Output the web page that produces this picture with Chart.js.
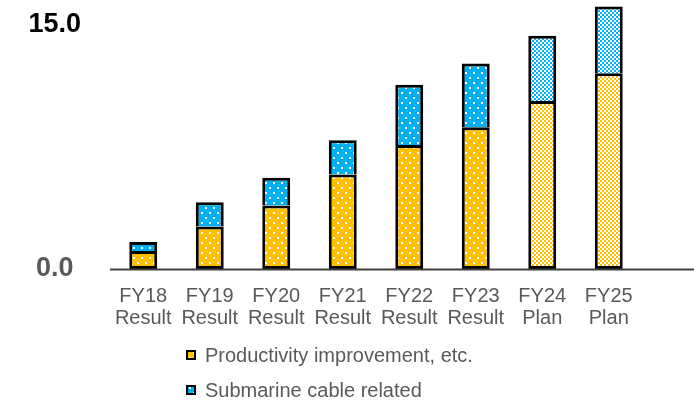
<!DOCTYPE html>
<html>
<head>
<meta charset="utf-8">
<script src="https://cdn.jsdelivr.net/npm/chart.js@4/dist/chart.umd.min.js"></script>
<style>
  html, body { margin: 0; padding: 0; background: #fff; }
  #wrap { width: 694px; height: 400px; position: relative; }
</style>
</head>
<body>
<div id="wrap"><canvas id="chart"></canvas></div>
<script>
// Fiscal years and their status
const years = ['FY18', 'FY19', 'FY20', 'FY21', 'FY22', 'FY23', 'FY24', 'FY25'];
const status = ['Result', 'Result', 'Result', 'Result', 'Result', 'Result', 'Plan', 'Plan'];

// Series values
const productivity = [1.1, 2.6, 3.9, 5.8, 7.6, 8.7, 10.3, 12.0];
const cable = [0.55, 1.5, 1.7, 2.1, 3.7, 3.9, 4.0, 4.1];

// Labelled y values
const yTicks = [0, 15];

const seriesNames = ['Productivity improvement, etc.', 'Submarine cable related'];
const YELLOW = '#FFC000';
const BLUE = '#00B0F0';
const GREY_TEXT = '#595959';
const FONT = "'Liberation Sans', Arial, sans-serif";

// Fill patterns: white dots for results, fine checker for plans
function dotPattern(color) {
  const c = document.createElement('canvas');
  c.width = 8; c.height = 10;
  const g = c.getContext('2d');
  g.fillStyle = color; g.fillRect(0, 0, 8, 10);
  g.fillStyle = '#fff';
  g.fillRect(1, 2, 2, 2);
  g.fillRect(5, 7, 2, 2);
  return g.createPattern(c, 'repeat');
}
function checkPattern(color) {
  const c = document.createElement('canvas');
  c.width = 4; c.height = 4;
  const g = c.getContext('2d');
  g.fillStyle = '#fff'; g.fillRect(0, 0, 4, 4);
  g.fillStyle = color;
  g.fillRect(0, 0, 2, 2);
  g.fillRect(2, 2, 2, 2);
  return g.createPattern(c, 'repeat');
}
const fills = {
  yellow: { dots: dotPattern(YELLOW), check: checkPattern(YELLOW) },
  blue: { dots: dotPattern(BLUE), check: checkPattern(BLUE) }
};
const isPlan = i => status[i] === 'Plan';

// Baseline running out to the right edge
const baseline = {
  id: 'baseline',
  afterDatasetsDraw(chart) {
    const { ctx, chartArea } = chart;
    const y = chart.scales.y.getPixelForValue(0);
    ctx.save();
    ctx.strokeStyle = '#404040';
    ctx.lineWidth = 2;
    ctx.beginPath();
    ctx.moveTo(chartArea.left, y + 0.5);
    ctx.lineTo(chart.width, y + 0.5);
    ctx.stroke();
    ctx.restore();
  }
};

// Two-row legend under the axis
const stackedLegend = {
  id: 'stackedLegend',
  afterDraw(chart) {
    const { ctx } = chart;
    const rows = [
      { y: 355, fill: fills.yellow.dots },
      { y: 390, fill: fills.blue.dots }
    ];
    ctx.save();
    ctx.font = '20px ' + FONT;
    ctx.textBaseline = 'middle';
    rows.forEach((r, i) => {
      const bx = 186, by = r.y - 5, s = 10;
      ctx.fillStyle = r.fill;
      ctx.fillRect(bx, by, s, s);
      ctx.strokeStyle = '#000';
      ctx.lineWidth = 2;
      ctx.strokeRect(bx + 1, by + 1, s - 2, s - 2);
      ctx.fillStyle = GREY_TEXT;
      ctx.textAlign = 'left';
      ctx.fillText(seriesNames[i], 205, r.y + 1);
    });
    ctx.restore();
  }
};

const labels = years.map((y, i) => [y, status[i]]);

new Chart(document.getElementById('chart'), {
  type: 'bar',
  data: {
    labels: labels,
    datasets: [
      {
        label: seriesNames[0],
        data: productivity,
        backgroundColor: c => isPlan(c.dataIndex) ? fills.yellow.check : fills.yellow.dots,
        borderColor: '#000',
        borderWidth: 3,
        borderSkipped: false
      },
      {
        label: seriesNames[1],
        data: cable,
        backgroundColor: c => isPlan(c.dataIndex) ? fills.blue.check : fills.blue.dots,
        borderColor: '#000',
        borderWidth: { top: 3, left: 3, right: 3, bottom: 0 },
        borderSkipped: false
      }
    ]
  },
  options: {
    responsive: true,
    maintainAspectRatio: false,
    animation: false,
    layout: { padding: { left: 0, right: 52, top: 0, bottom: 0 } },
    datasets: { bar: { categoryPercentage: 1, barPercentage: 0.42 } },
    plugins: { legend: { display: false }, tooltip: { enabled: false } },
    scales: {
      x: {
        stacked: true,
        grid: { display: false, drawTicks: false },
        border: { display: false },
        afterFit: s => { s.height = 131; },
        ticks: {
          padding: 16,
          color: GREY_TEXT,
          font: { size: 20, family: FONT, lineHeight: 1.1 },
          maxRotation: 0,
          autoSkip: false
        }
      },
      y: {
        stacked: true,
        min: 0,
        max: 16.5,
        afterBuildTicks: s => { s.ticks = yTicks.map(v => ({ value: v })); },
        afterFit: s => { s.width = 110; s.paddingTop = 0; s.paddingBottom = 0; },
        grid: { display: false, drawTicks: false },
        border: { display: false },
        ticks: {
          crossAlign: 'center',
          padding: 29,
          color: c => c.tick && c.tick.value === 0 ? GREY_TEXT : '#000',
          font: { size: 27, weight: 'bold', family: FONT },
          callback: v => Number(v).toFixed(1)
        }
      }
    }
  },
  plugins: [baseline, stackedLegend]
});
</script>
</body>
</html>
